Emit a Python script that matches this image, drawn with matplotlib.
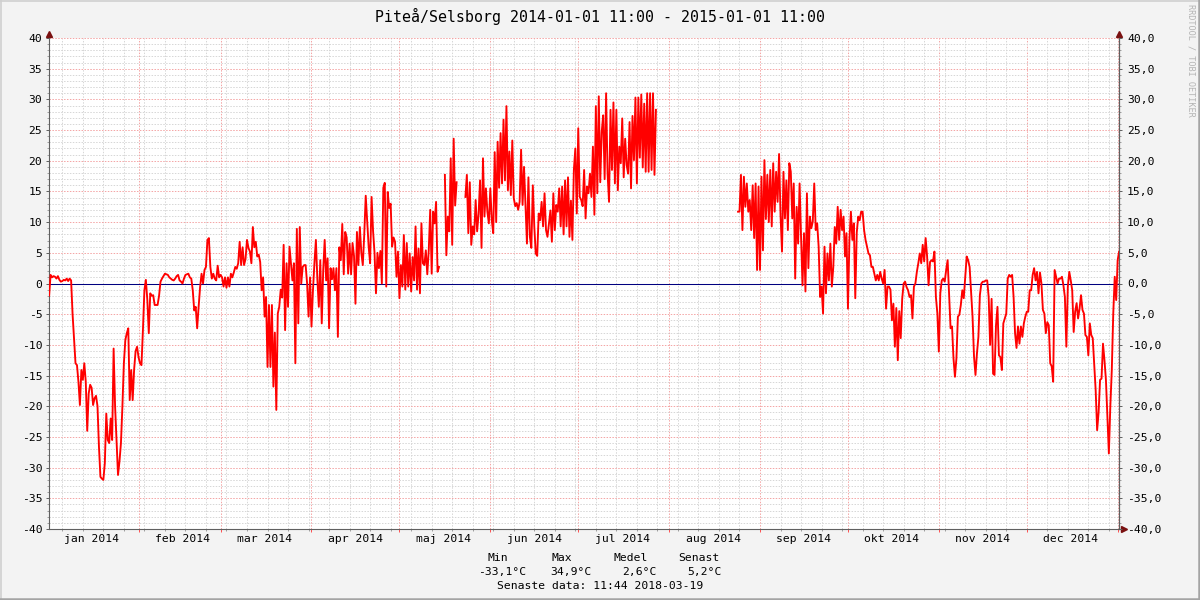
import matplotlib
matplotlib.use('Agg')
import matplotlib.pyplot as plt
import matplotlib.dates as mdates
from matplotlib.ticker import MultipleLocator, FuncFormatter, NullFormatter
from matplotlib.lines import Line2D
import numpy as np
import pandas as pd

nan = np.nan

# temperature readings, one value every 12 hours, starting at 00:00 on the 1st of each month
jan = [-2.0, -2.0, 1.4, 1.0, 1.2, 1.1, 0.8, 1.2, 0.6, 0.3, 0.4, 0.6, 0.5, 0.8, 0.4, 0.8, 0.5,
       -5.0, -9.0, -13.0, -13.3, -16.0, -19.8, -14.1, -15.7, -13.0, -16.0, -24.0, -17.9, -16.5,
       -17.0, -19.8, -18.7, -18.3, -20.0, -26.6, -31.5, -31.8, -32.0, -29.3, -21.2, -25.5, -26.0,
       -22.0, -25.5, -10.6, -20.0, -25.5, -31.2, -29.0, -26.0, -20.0, -13.0, -9.2, -8.1, -7.3,
       -19.0, -14.1, -19.0, -14.0, -11.0, -10.3]
feb = [-12.0, -13.0, -13.3, -7.6, -1.1, 0.6, -2.7, -8.1, -1.6, -2.0, -1.9, -3.5, -3.5, -3.5,
       -2.0, 0.3, 0.8, 1.2, 1.6, 1.5, 1.4, 1.0, 0.8, 0.6, 0.5, 0.8, 1.2, 1.4, 0.5, 0.3, 0.0, 0.8,
       1.4, 1.5, 1.6, 1.0, 0.8, -1.1, -4.4, -3.8, -7.3, -3.8, -0.6, 1.6, 0.0, 2.2, 2.7, 7.1, 7.4,
       2.7, 0.8, 1.6, 0.8, 0.5, 2.9, 1.0]
mar = [1.4, 1.0, -0.5, 1.0, -0.7, 1.0, -0.5, 1.6, 1.0, 1.8, 2.7, 2.4, 3.3, 6.8, 3.0, 5.9, 3.0,
       4.0, 7.1, 5.8, 5.2, 3.3, 9.2, 5.9, 6.8, 4.4, 4.7, 3.5, -1.1, 1.0, -5.4, -2.2, -13.6, -3.5,
       -13.6, -3.5, -16.8, -8.0, -20.6, -4.9, -3.8, -1.0, -2.3, 6.3, -7.6, 3.3, -3.8, 6.0, 3.3,
       0.5, 3.3, -13.0, 8.9, -6.5, 9.2, 0.0, 2.7, 3.0, 3.0, 0.0, -5.4, 1.0]
apr = [-7.0, -1.1, 3.3, 7.1, 0.7, -3.8, 3.8, -6.5, 2.2, 7.1, 0.5, 4.1, -7.3, 2.5, 0.7, 2.5,
       -1.1, 2.5, -8.7, 5.9, 3.8, 9.7, 1.5, 8.4, 7.5, 1.6, 6.5, 1.5, 6.6, 4.5, -3.3, 8.4, 3.0,
       9.2, 5.0, 3.0, 8.0, 14.3, 10.0, 6.0, 3.3, 14.1, 8.6, 5.0, -1.6, 5.0, 2.5, 5.3, 0.0, 15.6,
       16.4, -0.5, 14.9, 12.3, 13.0, 6.0, 7.5, 6.8, 1.1, 5.2]
may = [-2.4, 3.0, -0.5, 7.9, -1.0, 6.6, -0.5, 4.9, -1.3, 4.3, 0.5, 9.3, -1.0, 5.7, -1.6, 9.8,
       3.3, 3.0, 5.4, 1.5, 5.4, 12.0, 1.6, 11.7, 9.8, 13.3, 1.9, 2.7, nan, nan, nan, 17.7, 4.6,
       10.9, 8.5, 20.4, 6.3, 23.6, 12.7, 16.5, nan, nan, nan, nan, nan, 14.1, 17.7, 8.2, 16.5,
       6.3, 9.3, 8.0, 13.6, 8.5, 11.3, 16.8, 5.8, 20.4, 10.9, 15.5, 11.7, 9.8]
jun = [15.5, 10.3, 8.2, 21.4, 10.0, 23.1, 15.6, 24.5, 16.3, 26.7, 16.8, 28.9, 15.2, 21.5, 14.4,
       23.3, 13.9, 12.6, 13.1, 12.0, 13.3, 21.8, 12.8, 19.0, 12.8, 6.5, 17.3, 7.6, 5.8, 16.0, 9.3,
       4.9, 4.5, 11.4, 10.3, 13.3, 9.3, 14.7, 8.7, 7.6, 9.8, 11.9, 6.8, 14.7, 8.7, 12.8, 11.7,
       15.5, 9.3, 15.8, 8.0, 16.8, 9.3, 17.3, 7.6, 13.5, 7.1, 18.5, 22.0, 11.4]
jul = [25.3, 14.1, 13.6, 12.6, 18.5, 10.6, 15.8, 14.7, 17.9, 14.1, 22.3, 11.2, 28.9, 14.7, 30.5,
       16.5, 24.7, 27.4, 17.0, 31.0, 17.9, 13.3, 28.3, 18.5, 29.5, 16.3, 28.3, 15.2, 22.3, 19.6,
       26.9, 17.3, 23.6, 19.3, 17.9, 26.3, 15.5, 27.3, 20.1, 30.3, 16.3, 30.3, 20.5, 30.8, 18.9,
       29.3, 18.2, 31.0, 18.2, 31.0, 18.5, 31.0, 17.7, 28.3, nan, nan, nan, nan, nan, nan, nan, nan]
aug = [nan] * 47 + [11.7, 11.7, 17.7, 8.7, 17.4, 12.5, 16.3, 11.7, 13.6, 8.7, 16.0, 7.4, 16.3,
                    2.2, 15.8]
sep = [2.2, 17.4, 5.4, 20.1, 10.5, 17.7, 10.0, 18.5, 9.3, 19.6, 11.7, 18.2, 13.3, 21.1, 11.1,
       5.2, 18.2, 10.6, 16.8, 8.7, 19.6, 18.2, 10.6, 16.3, 0.8, 12.5, 6.5, 16.3, 7.6, -0.3, 8.2,
       -1.3, 14.7, 2.5, 10.9, 9.0, 10.1, 16.3, 8.7, 9.8, 6.0, -2.2, -0.5, -4.9, 6.0, -1.6, 4.9,
       0.5, 6.5, -0.5, 2.7, 9.2, 6.5, 12.5, 7.1, 12.0, 8.7, 10.9, 4.4, 8.2]
okt = [-4.1, 7.1, 11.7, 7.1, 9.8, -2.4, 8.3, 10.9, 10.3, 11.7, 11.7, 8.7, 7.1, 6.0, 4.9, 4.6,
       2.7, 2.7, 1.6, 0.5, 1.4, 0.5, 1.9, 0.8, 0.0, 2.2, -4.1, -0.5, -0.5, -1.0, -6.0, -3.3,
       -10.3, -4.0, -12.5, -4.5, -8.9, -2.5, 0.0, 0.3, -0.6, -1.1, -2.2, -1.9, -5.7, -0.5, 0.0,
       1.9, 3.3, 4.9, 3.3, 6.3, 3.6, 7.4, 4.4, -0.3, 3.5, 3.8, 3.6, 5.2, -2.2, -4.9]
nov = [-11.1, -1.6, 0.5, 0.8, 0.3, 2.2, 3.8, -1.9, -7.3, -7.0, -12.2, -15.2, -12.2, -5.4, -5.1,
       -3.5, -1.1, -2.4, 1.1, 4.4, 3.8, 2.7, -1.3, -5.4, -11.9, -14.9, -11.4, -8.7, -1.9, 0.0,
       0.3, 0.3, 0.5, 0.5, -2.2, -10.0, -2.5, -14.7, -14.9, -6.8, -3.8, -11.7, -12.0, -14.1,
       -6.5, -5.7, -4.9, 0.8, 1.4, 1.1, 1.4, -2.2, -8.1, -10.5, -7.0, -9.8, -7.0, -8.7, -6.5, -5.4]
dec = [-4.6, -4.6, -1.1, -1.1, 1.4, 2.5, 0.5, 1.9, -1.6, 1.8, 0.0, -4.3, -4.9, -8.1, -6.3, -6.8,
       -13.0, -13.5, -16.0, 2.2, 1.1, 0.0, 0.8, 0.8, 1.1, -0.3, -2.2, -10.3, -0.5, 1.9, 0.5, -1.1,
       -7.9, -4.6, -3.2, -5.7, -4.1, -1.9, -4.3, -4.9, -8.4, -8.7, -11.7, -6.5, -8.4, -8.9, -13.3,
       -17.4, -23.9, -21.0, -15.7, -15.5, -9.8, -12.5, -15.7, -21.7, -27.7, -20.0, -14.1, -4.9,
       1.1, -2.7, 3.8, 5.2]

month_starts = ['2014-01-01', '2014-02-01', '2014-03-01', '2014-04-01', '2014-05-01', '2014-06-01',
                '2014-07-01', '2014-08-01', '2014-09-01', '2014-10-01', '2014-11-01', '2014-12-01']
month_data = [jan, feb, mar, apr, may, jun, jul, aug, sep, okt, nov, dec]
month_labels = ['jan 2014', 'feb 2014', 'mar 2014', 'apr 2014', 'maj 2014', 'jun 2014',
                'jul 2014', 'aug 2014', 'sep 2014', 'okt 2014', 'nov 2014', 'dec 2014']

title = 'Piteå/Selsborg 2014-01-01 11:00 - 2015-01-01 11:00'
stat_names = ['Min', 'Max', 'Medel', 'Senast']
stat_values = ['-33,1°C', '34,9°C', '2,6°C', '5,2°C']
last_update = 'Senaste data: 11:44 2018-03-19'

plt.rcParams['font.family'] = ['DejaVu Sans Mono']

parts = []
for start, vals in zip(month_starts, month_data):
    idx = pd.date_range(start, periods=len(vals), freq='12h')
    parts.append(pd.Series(vals, index=idx))
temp = pd.concat(parts)

W, H = 1200, 600
def fx(px):
    return px / W
def fy(py):
    return 1 - py / H

fig = plt.figure(figsize=(12, 6), dpi=100, facecolor='#f3f3f3')
ax = fig.add_axes([fx(49), fy(529), 1070 / W, 491 / H])
ax.set_facecolor('white')

t0 = pd.Timestamp('2014-01-01 11:00')
t1 = pd.Timestamp('2015-01-01 11:00')
ax.set_xlim(t0, t1)
ax.set_ylim(-40, 40)

ax.yaxis.set_major_locator(MultipleLocator(5))
ax.yaxis.set_minor_locator(MultipleLocator(1))
ax.xaxis.set_major_locator(mdates.MonthLocator())
ax.xaxis.set_minor_locator(mdates.WeekdayLocator(byweekday=mdates.MO))
ax.xaxis.set_major_formatter(NullFormatter())
ax.xaxis.set_minor_formatter(NullFormatter())
ax.yaxis.set_major_formatter(FuncFormatter(lambda v, p: f'{v:.0f}'))

dots = (0, (1.5, 1.5))
ax.grid(which='minor', color='#d6d6d6', linestyle=dots, linewidth=0.7)
ax.grid(which='major', color='#f4a4a4', linestyle=dots, linewidth=0.7)
ax.set_axisbelow(True)

ax.axhline(0, color='#000080', lw=0.75, zorder=2)
ax.plot(temp.index, temp.values, color='#ff0000', lw=1.35, zorder=3)

for side in ['left', 'bottom', 'right']:
    ax.spines[side].set_color('#606060')
    ax.spines[side].set_linewidth(0.8)
ax.spines['top'].set_visible(False)

ax.tick_params(axis='y', which='major', length=2.2, width=0.7, color='#606060', pad=2.6,
               labelsize=8.2)
ax.tick_params(axis='y', which='minor', length=1.2, width=0.6, color='#909090')
ax.tick_params(axis='x', which='major', length=2.2, width=0.7, color='#ff5050')
ax.tick_params(axis='x', which='minor', length=1.5, width=0.6, color='#909090')

ax2 = ax.twinx()
ax2.set_ylim(-40, 40)
ax2.yaxis.set_major_locator(MultipleLocator(5))
ax2.yaxis.set_minor_locator(MultipleLocator(1))
ax2.yaxis.set_major_formatter(FuncFormatter(lambda v, p: f'{v:.1f}'.replace('.', ',')))
for side in ['left', 'bottom', 'top']:
    ax2.spines[side].set_visible(False)
ax2.spines['right'].set_color('#606060')
ax2.spines['right'].set_linewidth(0.8)
ax2.tick_params(axis='y', which='major', length=2.2, width=0.7, color='#606060', pad=3.6,
                labelsize=8.2)
ax2.tick_params(axis='y', which='minor', length=1.2, width=0.6, color='#909090')

# axis arrows
arrow_col = '#7a1010'
ax.plot([0, 0], [1, 1.008], color='#606060', lw=0.8, transform=ax.transAxes, clip_on=False)
ax.plot([1, 1], [1, 1.008], color='#606060', lw=0.8, transform=ax.transAxes, clip_on=False)
ax.plot([1, 1.004], [0, 0], color='#606060', lw=0.8, transform=ax.transAxes, clip_on=False)
ax.plot([0], [1.009], marker='^', ms=4.2, color=arrow_col, transform=ax.transAxes, clip_on=False)
ax.plot([1], [1.009], marker='^', ms=4.2, color=arrow_col, transform=ax.transAxes, clip_on=False)
ax.plot([1.0045], [0], marker='>', ms=4.2, color=arrow_col, transform=ax.transAxes,
        clip_on=False)

# month labels centred half a month in
for s, lab in zip(month_starts, month_labels):
    xpos = mdates.date2num(pd.Timestamp(s) + pd.Timedelta(days=15))
    ax.text(xpos, -10.5 / 491, lab, transform=ax.get_xaxis_transform(), ha='center',
            va='center', fontsize=8.2)

fig.text(0.5, fy(16), title, ha='center', va='center', fontsize=10.7)

name_x = [488, 551, 614, 678]
value_x = [478, 550, 622, 687]
for nm, x in zip(stat_names, name_x):
    fig.text(fx(x), fy(558), nm, ha='left', va='center', fontsize=8.2)
for val, x in zip(stat_values, value_x):
    fig.text(fx(x), fy(572.5), val, ha='left', va='center', fontsize=8.2)
fig.text(0.5, fy(586), last_update, ha='center', va='center', fontsize=8.2)

fig.text(fx(1191), fy(4), 'RRDTOOL / TOBI OETIKER', rotation=270, ha='center', va='top',
         fontsize=6.1, color='#b4b4b4')

# bevelled frame
fig.add_artist(Line2D([0, 1], [fy(0.7), fy(0.7)], transform=fig.transFigure, color='#d0d0d0', lw=1.2))
fig.add_artist(Line2D([fx(0.7), fx(0.7)], [0, 1], transform=fig.transFigure, color='#d0d0d0', lw=1.2))
fig.add_artist(Line2D([0, 1], [fy(598.8), fy(598.8)], transform=fig.transFigure, color='#a4a4a4', lw=1.8))
fig.add_artist(Line2D([fx(1198.8), fx(1198.8)], [0, 1], transform=fig.transFigure, color='#a4a4a4', lw=1.8))

fig.savefig('out.png', dpi=100, facecolor=fig.get_facecolor())
